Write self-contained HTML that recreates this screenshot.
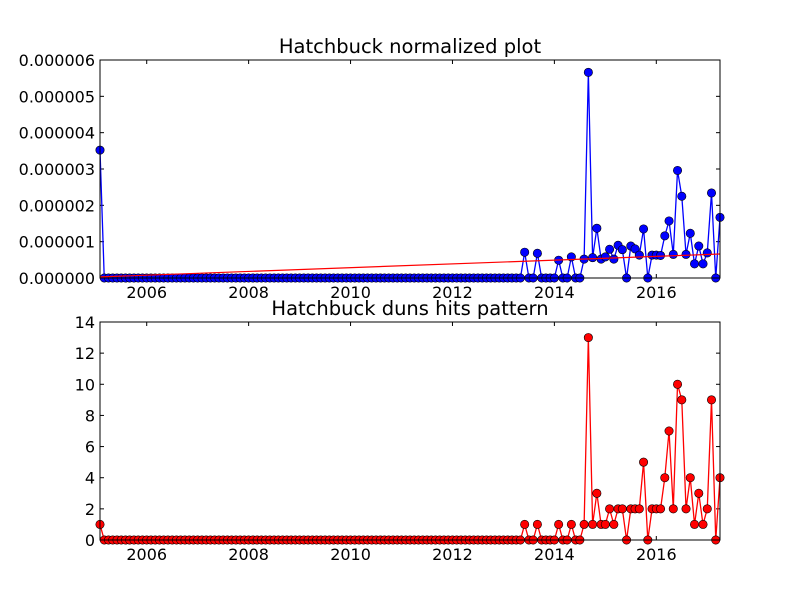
<!DOCTYPE html>
<html><head><meta charset="utf-8"><style>
body{margin:0;background:#fff;width:800px;height:600px;overflow:hidden}
svg{display:block;font-family:"DejaVu Sans","Liberation Sans",sans-serif}
</style></head><body>
<svg id="c" width="800" height="600" xmlns="http://www.w3.org/2000/svg"></svg>
<script>
const startYear = 2005 + 1/12;
const nMonths = 147;
const hitIdx = [0,100,103,108,111,114,115,116,117,118,119,120,121,122,123,124,125,126,127,128,129,130,131,132,133,134,135,136,137,138,139,140,141,142,143,144,145,146];
const hitVals = [1,1,1,1,1,1,13,1,3,1,1,2,1,2,2,0,2,2,2,5,0,2,2,2,4,7,2,10,9,2,4,1,3,1,2,9,0,4];
const normVals = [3.52,0.71,0.68,0.49,0.58,0.52,5.66,0.56,1.37,0.52,0.58,0.79,0.52,0.9,0.78,0,0.88,0.8,0.63,1.35,0,0.63,0.63,0.62,1.16,1.57,0.65,2.96,2.25,0.65,1.23,0.39,0.88,0.39,0.69,2.34,0,1.67];
const trendVals = [0.03,0.66];
const xTicks = [2006,2008,2010,2012,2014,2016];
const topTicks = [0,1,2,3,4,5,6];
const botTicks = [0,2,4,6,8,10,12,14];

const NS="http://www.w3.org/2000/svg", svg=document.getElementById('c');
function mk(t,a,p){const e=document.createElementNS(NS,t);for(const k in a)e.setAttribute(k,a[k]);(p||svg).appendChild(e);return e;}
const L=100,R=720;
const endYear = startYear + (nMonths-1)/12;
const xs = t => L + (t-startYear)/(endYear-startYear)*(R-L);
const xi = i => xs(startYear + i/12);
function series(idx,vals){const a=new Array(nMonths).fill(0);idx.forEach((k,j)=>a[k]=vals[j]);return a;}

function panel(top,bot,ymax,ticks,fmt,title,name){
  const ys=v=>bot-(v/ymax)*(bot-top);
  const g=mk('g',{});  
  const t=mk('text',{x:410,y:top-7,'text-anchor':'middle','font-size':19.5},g); t.textContent=title;
   
  ticks.forEach(v=>{const y=ys(v);
    mk('line',{x1:L,x2:L+4,y1:y,y2:y,stroke:'#000'},g);mk('line',{x1:R-4,x2:R,y1:y,y2:y,stroke:'#000'},g);
    const tx=mk('text',{x:L-5,y:y+6,'text-anchor':'end','font-size':16},g);tx.textContent=fmt(v);
    });
  xTicks.forEach(yr=>{const x=xs(yr);
    mk('line',{x1:x,x2:x,y1:bot,y2:bot-4,stroke:'#000'},g);mk('line',{x1:x,x2:x,y1:top,y2:top+4,stroke:'#000'},g);
    const tx=mk('text',{x:x,y:bot+20,'text-anchor':'middle','font-size':16},g);tx.textContent=yr;
    });
  return {g,ys};
}
function drawSeries(g,vals,ys,top,bot,color,name){
  const cid='cl-'+name;
  const cp=mk('clipPath',{id:cid},g); mk('rect',{x:L-6,y:top-6,width:R-L+12,height:bot-top+12},cp);
  const sg=mk('g',{'clip-path':'url(#'+cid+')'},g);
   
  mk('polyline',{points:vals.map((v,i)=>xi(i)+','+ys(v)).join(' '),fill:'none',stroke:color,'stroke-width':1.3},sg);
  vals.forEach((v,i)=>{const c=mk('circle',{cx:xi(i),cy:ys(v),r:4.2,fill:color,stroke:'#000','stroke-width':0.6},sg);
    });
  return sg;
}
// top
const T=panel(60,278,6,topTicks,v=>(v/1e6).toFixed(6),'Hatchbuck normalized plot','top-panel');
const nv=series(hitIdx,normVals);
const sgt=drawSeries(T.g,nv,T.ys,60,278,'#0000ff','normalized-series');
const tr=mk('line',{x1:xi(0),y1:T.ys(trendVals[0]),x2:xi(nMonths-1),y2:T.ys(trendVals[1]),stroke:'#ff0000','stroke-width':1.2},sgt);

mk('rect',{x:L,y:60,width:R-L,height:218,fill:'none',stroke:'#000','stroke-width':1},T.g);
// bottom
const B=panel(322,540,14,botTicks,v=>String(v),'Hatchbuck duns hits pattern','bottom-panel');
drawSeries(B.g,series(hitIdx,hitVals),B.ys,322,540,'#ff0000','hits-series');
mk('rect',{x:L,y:322,width:R-L,height:218,fill:'none',stroke:'#000','stroke-width':1},B.g);
</script>
</body></html>
